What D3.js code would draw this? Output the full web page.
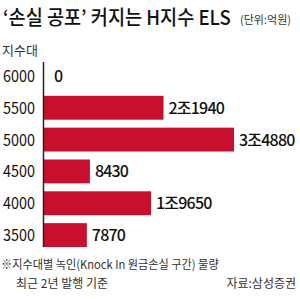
<!DOCTYPE html>
<html>
<head>
<meta charset="utf-8">
<script src="https://cdn.jsdelivr.net/npm/d3@7"></script>
<style>
  body { margin: 0; background: #fff; }
  svg { display: block; font-family: "Noto Sans CJK KR", "Liberation Sans", sans-serif; }
</style>
</head>
<body>
<div id="chart"></div>
<script>
// index bands (지수대) and knock-in volume, 억원
const bands = ["6000", "5500", "5000", "4500", "4000", "3500"]
const values = [0, 21940, 34880, 8430, 19650, 7870]
const labels = ["0", "2조1940", "3조4880", "8430", "1조9650", "7870"]

const W = 300, H = 299
const svg = d3.select('#chart').append('svg')
    .attr('width', W).attr('height', H)

const x0 = 44
const x = d3.scaleLinear().domain([0, 34880]).range([x0, 234])
const y = d3.scaleBand().domain(bands).range([60, 251])
    .paddingInner(0.25).paddingOuter(0.125)

// squeeze a text horizontally to a given width (condensed newspaper type)
function squeeze(sel, px, py, width) {
    const w = sel.node().getComputedTextLength()
    sel.attr('transform', `translate(${px},${py}) scale(${Math.min(1, width / w)},1)`)
}

// title
const title = svg.append('text')
    .attr('font-size', 20).attr('font-weight', 500).attr('fill', '#111')
    .text("‘손실 공포’ 커지는 H지수 ELS")
squeeze(title, 3, 25, 228)
const unit = svg.append('text')
    .attr('font-size', 11).attr('fill', '#333')
    .text("(단위:억원)")
squeeze(unit, 240, 24, 56)
svg.append('text').attr('x', 2).attr('y', 55)
    .attr('font-size', 13).attr('fill', '#333').text("지수대")

// bars
svg.append('g').selectAll('rect').data(values).join('rect')
    .attr('x', x0)
    .attr('y', (d, i) => y(bands[i]))
    .attr('width', d => x(d) - x0)
    .attr('height', y.bandwidth())
    .attr('fill', '#c8102e')

// axis line
svg.append('line').attr('x1', 43.5).attr('x2', 43.5).attr('y1', 62).attr('y2', 247)
    .attr('stroke', '#222').attr('stroke-width', 1.5)

// band labels
svg.append('g').selectAll('text').data(bands).join('text')
    .attr('x', 35).attr('y', d => y(d) + y.bandwidth() / 2 + 6)
    .attr('text-anchor', 'end').attr('font-size', 16).attr('fill', '#111')
    .attr('textLength', 32).attr('lengthAdjust', 'spacingAndGlyphs')
    .text(d => d)

// value labels
svg.append('g').selectAll('text').data(values).join('text')
    .attr('x', d => x(d) + (d === 0 ? 10 : 5))
    .attr('y', (d, i) => y(bands[i]) + y.bandwidth() / 2 + 6)
    .attr('font-size', 16).attr('font-weight', 500).attr('fill', '#111')
    .attr('letter-spacing', -0.8)
    .text((d, i) => labels[i])

// footnotes
const note = svg.append('text')
    .attr('font-size', 12).attr('fill', '#333')
    .text("※지수대별 녹인(Knock In 원금손실 구간) 물량")
squeeze(note, 1, 269, 218)
svg.append('text').attr('x', 16).attr('y', 288)
    .attr('font-size', 12).attr('fill', '#333')
    .text("최근 2년 발행 기준")
svg.append('text').attr('x', 296).attr('y', 288).attr('text-anchor', 'end')
    .attr('font-size', 12).attr('fill', '#333')
    .text("자료:삼성증권")
</script>
</body>
</html>
